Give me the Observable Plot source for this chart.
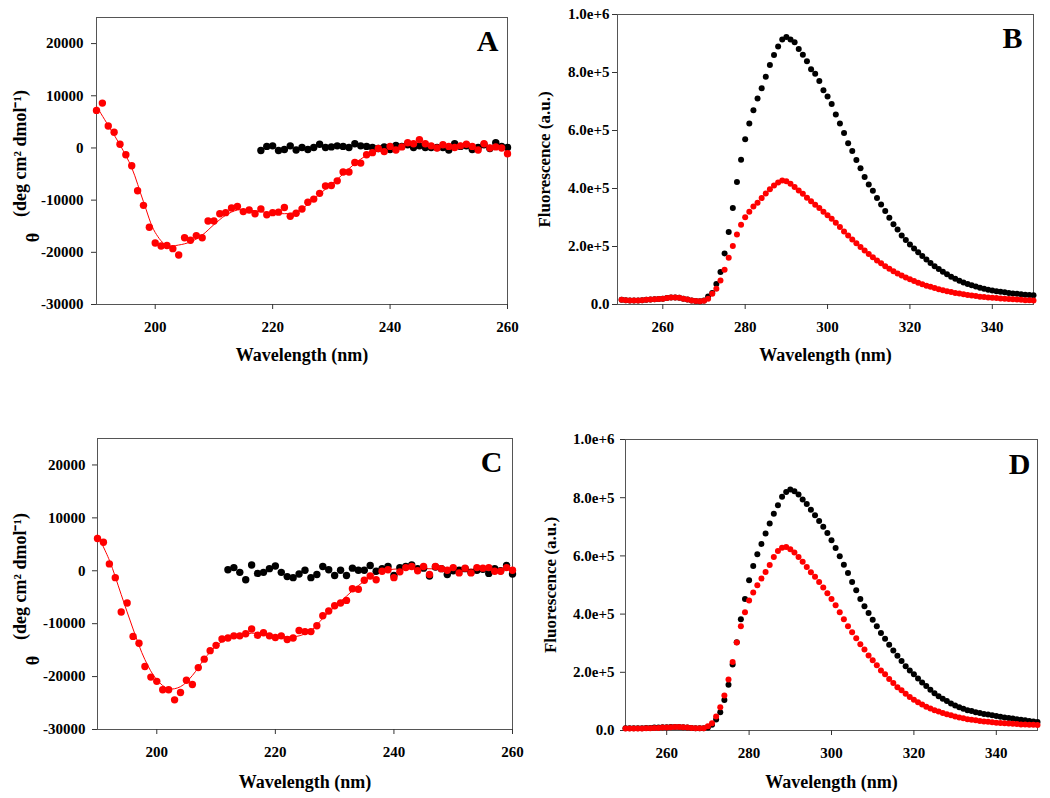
<!DOCTYPE html>
<html><head><meta charset="utf-8">
<script src="https://cdn.jsdelivr.net/npm/d3@7"></script>
<script src="https://cdn.jsdelivr.net/npm/@observablehq/plot@0.6"></script>
<style>
body{margin:0;background:#fff;}
#wrap{position:relative;width:1050px;height:798px;background:#fff;}
.panel{position:absolute;}
</style></head><body><div id="wrap"></div>
<script>
// ---------- Panel A (CD) ----------
const cdStartRed = 190;
const redA = [7200,8600,4200,3000,700,-1300,-3400,-8200,-11000,-15200,
  -18200,-18800,-18700,-19300,-20500,-17200,-17700,-16800,-17200,-14000,
  -14000,-12600,-12400,-11500,-11200,-12200,-11900,-12600,-11700,-12800,
  -12400,-12300,-11400,-13100,-12500,-11700,-10400,-9800,-8700,-7300,
  -7200,-6300,-4600,-4600,-2800,-2900,-1300,-900,-100,-700,
  300,-400,200,1000,800,1600,800,400,0,600,
  300,100,400,700,300,-400,800,0,200,0,
  -1100];
const blackAStart = 218;
const blackA = [-500,300,
  400,-500,-300,400,-400,100,-300,100,700,100,
  200,400,300,100,800,400,300,100,-100,200,
  -300,500,300,600,100,400,100,100,100,100,
  -400,800,300,400,-300,100,600,-100,1000,300,
  100];
const fitAx = [190,192,194,196,198,200,202,204,206,208,210,212,214,216,218,220,222,224,226,228,230,232,234,236,238,240,244,248,252,256,260];
const fitAy = [8000,4300,600,-3800,-10300,-16200,-18700,-18600,-18000,-16700,-14700,-12900,-11900,-11900,-12200,-12500,-12600,-12300,-10800,-8800,-7000,-5000,-3000,-1400,-300,200,500,400,300,300,200];

// ---------- Panel C (CD) ----------
const redC = [6100,5400,1300,-1300,-7800,-6100,-12400,-13700,-18100,-20100,
  -20900,-22500,-22500,-24400,-23000,-20700,-21500,-18300,-16700,-15100,
  -14100,-12900,-12700,-12300,-12300,-11900,-11000,-12200,-11700,-12300,
  -12600,-12300,-13000,-12700,-11300,-11500,-11500,-10400,-8500,-7600,
  -6600,-6100,-5600,-3400,-3500,-1800,-1000,-1700,-100,200,
  -1300,-200,600,800,0,800,-700,800,400,100,
  600,-400,500,-400,600,500,600,-100,-100,600,
  100];
const blackCStart = 212;
const blackC = [200,600,-300,-1700,1100,-500,-300,400,
  900,-300,-1100,-1300,-600,100,-1300,-700,800,200,
  -900,100,-900,500,100,100,1000,-100,400,800,
  -900,600,800,1100,400,500,-1000,700,400,-700,
  0,100,400,-300,100,300,-500,400,0,1000,
  -600];
const fitCx = [190,192,194,196,198,200,202,204,206,208,210,212,214,216,218,220,222,224,226,228,230,232,234,236,238,240,245,250,255,260];
const fitCy = [6800,2000,-4500,-11000,-16800,-20600,-22300,-21900,-19800,-16700,-14200,-12800,-12100,-11800,-11900,-12300,-12500,-12300,-11300,-9000,-6800,-4800,-2800,-1200,-100,300,400,300,300,300];

// ---------- Panel B (fluorescence) ----------
const flStart = 250;
const blackB = [16000,15000,14000,14000,14000,15000,16000,17000,18000,19000,
  20000,22000,24000,24000,23000,20000,17000,14000,12000,11000,
  14000,28000,40000,71000,112000,176000,250000,333000,422000,499000,
  570000,624000,670000,710000,746000,785000,826000,860000,890000,914000,
  922000,914000,904000,881000,861000,839000,811000,796000,771000,739000,
  717000,691000,655000,624000,591000,556000,529000,498000,470000,440000,
  414000,392000,367000,345000,322000,299000,277000,259000,238000,222000,
  207000,193000,180000,167000,155000,143000,132000,122000,113000,104000,
  96000,89000,82000,76000,71000,66000,62000,58000,54000,51000,
  48000,46000,44000,42000,40000,38000,37000,35000,34000,33000,
  32000];
const redB = [16000,15000,14000,14000,14000,15000,16000,17000,18000,19000,
  20000,22000,24000,24000,23000,20000,17000,14000,12000,11000,
  13000,20000,37000,54000,83000,120000,161000,202000,241000,275000,
  301000,320000,338000,351000,367000,383000,397000,410000,421000,428000,
  425000,416000,405000,393000,382000,368000,356000,344000,333000,320000,
  308000,296000,282000,267000,252000,238000,224000,211000,198000,186000,
  174000,163000,152000,142000,132000,123000,115000,107000,100000,93000,
  87000,81000,75000,70000,65000,61000,57000,53000,49000,46000,
  43000,40000,38000,35000,33000,31000,29000,27000,26000,24000,
  23000,22000,21000,20000,19000,18000,17000,16000,15000,15000,
  14000];

// ---------- Panel D (fluorescence) ----------
const blackD = [8000,8000,8000,8000,8000,9000,9000,10000,10000,11000,
  11000,12000,12000,12000,11000,10000,9000,8000,8000,8000,
  10000,20000,38000,63000,105000,157000,227000,303000,382000,452000,
  516000,565000,606000,641000,677000,711000,745000,774000,803000,820000,
  828000,822000,811000,794000,778000,759000,740000,720000,700000,679000,
  654000,627000,599000,570000,541000,510000,482000,452000,427000,404000,
  381000,358000,335000,315000,295000,275000,257000,239000,221000,206000,
  193000,179000,165000,153000,140000,128000,118000,109000,101000,93000,
  86000,80000,75000,70000,67000,63000,60000,57000,55000,52000,
  50000,47000,45000,43000,41000,39000,37000,35000,33000,31000,
  29000];
const redD = [7000,7000,7000,7000,7000,8000,8000,9000,9000,10000,
  10000,11000,12000,12000,11000,10000,9000,8000,8000,8000,
  15000,25000,48000,80000,120000,175000,235000,302000,358000,406000,
  447000,474000,499000,522000,545000,569000,596000,617000,628000,631000,
  623000,612000,596000,580000,562000,544000,528000,510000,491000,472000,
  452000,430000,406000,382000,358000,338000,317000,296000,278000,258000,
  241000,224000,206000,193000,177000,163000,149000,138000,126000,115000,
  106000,97000,89000,82000,76000,70000,65000,60000,56000,52000,
  48000,45000,42000,39000,37000,35000,33000,31000,30000,28000,
  27000,26000,25000,24000,23000,22000,21000,21000,20000,20000,
  19000];

// ---------- ticks & labels ----------
const cdXTicks = [200, 220, 240, 260];
const cdYTicks = [-30000, -20000, -10000, 0, 10000, 20000];
const flXTicks = [260, 280, 300, 320, 340];
const flYTicks = [0, 200000, 400000, 600000, 800000, 1000000];
const xTitle = "Wavelength (nm)";
const cdYTitle = "(deg cm\u00B2 dmol\u207B\u00B9)";
const cdTheta = "\u03B8";
const flYTitle = "Fluorescence (a.u.)";

const series = (start, vals) => vals.map((v, i) => ({w: start + i, v}));
const pairs = (xs, ys) => xs.map((w, i) => ({w, v: ys[i]}));

const FONT = "'Liberation Serif', 'Times New Roman', Times, serif";

function makePanel(c) {
  const marks = [
    Plot.frame({stroke: "#555", strokeWidth: 1}),
    Plot.axisX({ticks: c.xTicks, tickSize: 5, tickPadding: 12, label: null, stroke: "#333", fontSize: 15, fontWeight: "bold"}),
    Plot.axisY({ticks: c.yTicks, tickSize: 5, tickPadding: c.yPad, label: null, stroke: "#333", tickFormat: c.yFormat, fontSize: 15, fontWeight: "bold"}),
  ];
  if (c.fit) marks.push(Plot.line(c.fit, {x: "w", y: "v", stroke: "#ff0000", strokeWidth: 1, curve: "catmull-rom"}));
  marks.push(Plot.dot(c.black, {x: "w", y: "v", r: c.r, fill: "#000", stroke: null}));
  marks.push(Plot.dot(c.red, {x: "w", y: "v", r: c.r, fill: "#ff0000", stroke: null}));
  marks.push(Plot.text([c.letter], {frameAnchor: "top-right", dx: c.letterDx, dy: c.letterDy, fontSize: 30, fontWeight: "bold", textAnchor: "middle", lineAnchor: "bottom"}));
  marks.push(Plot.text([xTitle], {frameAnchor: "bottom", dy: c.titleDy, fontSize: 18, fontWeight: "bold", lineAnchor: "bottom"}));
  for (const t of c.yTitles) {
    marks.push(Plot.text([t.text], {frameAnchor: "left", dx: t.dx, dy: t.dy, rotate: -90, fontSize: t.size, fontWeight: "bold", textAnchor: "middle"}));
  }
  const svg = Plot.plot({
    width: c.w, height: c.h,
    marginLeft: c.ml, marginRight: c.mr, marginTop: c.mt, marginBottom: c.mb,
    style: {fontFamily: FONT, fontWeight: "bold", fontSize: "15px", color: "#000", background: "transparent", overflow: "visible"},
    x: {domain: c.xDomain},
    y: {domain: c.yDomain},
    marks
  });
  const div = document.createElement("div");
  div.className = "panel";
  div.style.left = c.left + "px";
  div.style.top = c.top + "px";
  div.appendChild(svg);
  document.getElementById("wrap").appendChild(div);
}

const cdFormat = d => String(d);
const flFormat = d => d === 0 ? "0.0" : d.toExponential(1);

makePanel({left: 0, top: 0, w: 525, h: 380, ml: 96, mr: 18, mt: 17, mb: 76,
  xDomain: [190, 260], yDomain: [-30000, 25000], xTicks: cdXTicks, yTicks: cdYTicks, yPad: 8, yFormat: cdFormat,
  red: series(cdStartRed, redA), black: series(blackAStart, blackA), fit: pairs(fitAx, fitAy), r: 3.7,
  letter: "A", letterDx: -20, letterDy: 33, titleDy: 56,
  yTitles: [{text: cdYTitle, dx: -76, dy: -7.5, size: 18}, {text: cdTheta, dx: -63, dy: 76.5, size: 18}]});

makePanel({left: 525, top: 0, w: 525, h: 380, ml: 92, mr: 17, mt: 14, mb: 76,
  xDomain: [249, 350], yDomain: [0, 1000000], xTicks: flXTicks, yTicks: flYTicks, yPad: 3, yFormat: flFormat,
  red: series(flStart, redB), black: series(flStart, blackB), r: 3,
  letter: "B", letterDx: -21, letterDy: 33, titleDy: 56,
  yTitles: [{text: flYTitle, dx: -73, dy: 0, size: 17}]});

makePanel({left: 0, top: 400, w: 525, h: 398, ml: 97, mr: 13, mt: 38, mb: 69,
  xDomain: [190, 260], yDomain: [-30000, 25000], xTicks: cdXTicks, yTicks: cdYTicks, yPad: 7, yFormat: cdFormat,
  red: series(cdStartRed, redC), black: series(blackCStart, blackC), fit: pairs(fitCx, fitCy), r: 3.7,
  letter: "C", letterDx: -21, letterDy: 33, titleDy: 58,
  yTitles: [{text: cdYTitle, dx: -77, dy: -7.5, size: 18}, {text: cdTheta, dx: -64, dy: 76.5, size: 18}]});

makePanel({left: 525, top: 400, w: 525, h: 398, ml: 100, mr: 13, mt: 39, mb: 68,
  xDomain: [250, 350], yDomain: [0, 1000000], xTicks: flXTicks, yTicks: flYTicks, yPad: 6, yFormat: flFormat,
  red: series(flStart, redD), black: series(flStart, blackD), r: 3,
  letter: "D", letterDx: -18, letterDy: 34, titleDy: 57,
  yTitles: [{text: flYTitle, dx: -75, dy: 0, size: 17}]});
</script></body></html>
